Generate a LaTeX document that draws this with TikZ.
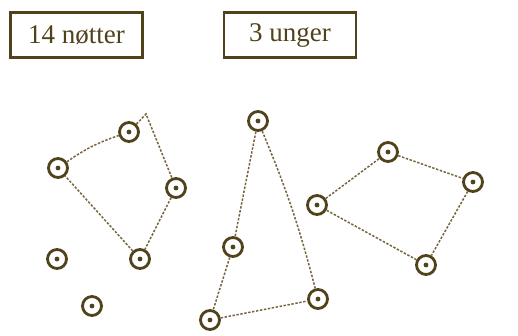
\documentclass[tikz,border=0pt]{standalone}
\usepackage{fontspec}
\setmainfont{Liberation Serif}
\definecolor{ink}{RGB}{80,66,26}
\definecolor{lineink}{RGB}{118,102,60}
\begin{document}
\begin{tikzpicture}[x=1pt,y=-1pt,
  labelbox/.style={draw=ink,line width=2.6pt,minimum width=132pt,minimum height=45pt,inner sep=0pt,font=\fontsize{27}{30}\selectfont,text=ink},
  dot/.style={circle,draw=ink,line width=2.8pt,minimum size=19pt,inner sep=0pt,fill=white,
    path picture={\fill[ink] (path picture bounding box.center) circle (2.4pt);}},
  link/.style={draw=lineink,line width=1.5pt,dash pattern=on 2.4pt off 1.6pt}]
\useasboundingbox[fill=white] (0,0) rectangle (518,335);
\node[labelbox] (b1) at (76.5,35) {14 nøtter};
\node[labelbox] (b2) at (290,35) {3 unger};
% left group
\coordinate (corner) at (146,114);
\node[dot] (A) at (129,132) {};
\node[dot] (B) at (58,168) {};
\node[dot] (C) at (176,188) {};
\node[dot] (D) at (140,259) {};
\node[dot] (E) at (57,259) {};
\node[dot] (F) at (92,306) {};
\draw[link] (B) to[bend left=8] (A);
\draw[link] (A) -- (corner) -- (C);
\draw[link] (C) -- (D);
\draw[link] (D) -- (B);
% middle group
\node[dot] (G) at (258,121) {};
\node[dot] (H) at (233,247) {};
\node[dot] (I) at (210,320) {};
\node[dot] (J) at (318,299) {};
\draw[link] (G) -- (H);
\draw[link] (H) -- (I);
\draw[link] (I) -- (J);
\draw[link] (G) to[bend left=4] (J);
% right group
\node[dot] (K) at (317,205) {};
\node[dot] (L) at (388,152) {};
\node[dot] (M) at (473,182) {};
\node[dot] (N) at (426,265) {};
\draw[link] (K) -- (L);
\draw[link] (L) -- (M);
\draw[link] (M) -- (N);
\draw[link] (N) -- (K);
\end{tikzpicture}
\end{document}
